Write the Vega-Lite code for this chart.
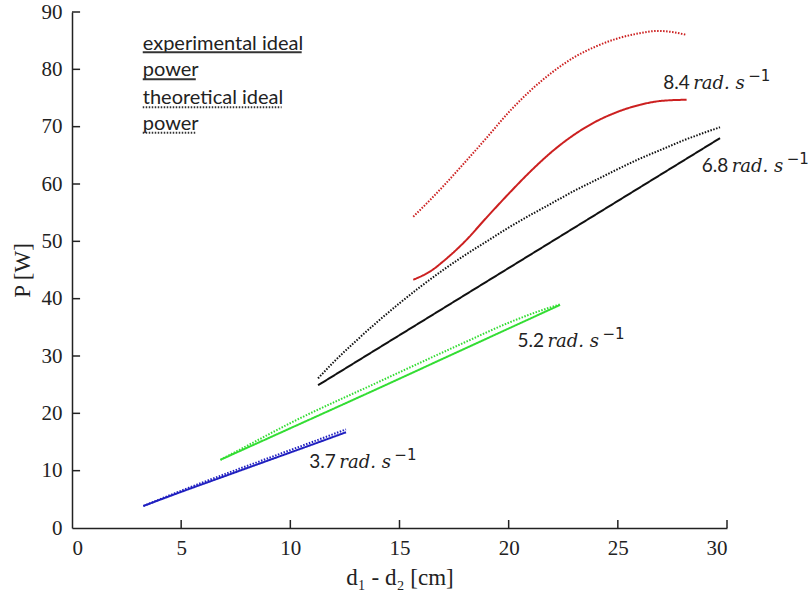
{
  "$schema": "https://vega.github.io/schema/vega-lite/v6.json",
  "width": 655,
  "height": 516,
  "autosize": {"type": "none"},
  "padding": {"left": 72, "top": 12, "right": 81, "bottom": 77},
  "background": "white",
  "config": {
    "view": {"stroke": null},
    "axis": {
      "grid": false,
      "ticks": false,
      "domainColor": "#222222",
      "domainWidth": 1.5,
      "labelFont": "Liberation Serif",
      "labelFontSize": 21,
      "labelColor": "#222222",
      "titleFont": "Liberation Serif",
      "titleFontSize": 23,
      "titleFontWeight": "normal",
      "titleColor": "#222222"
    }
  },
  "datasets": {
    "curves": [
      {"series": "b", "kind": "exp", "x": 3.27, "y": 3.84},
      {"series": "b", "kind": "exp", "x": 5, "y": 6.3},
      {"series": "b", "kind": "exp", "x": 7, "y": 9.05},
      {"series": "b", "kind": "exp", "x": 9, "y": 11.8},
      {"series": "b", "kind": "exp", "x": 11, "y": 14.55},
      {"series": "b", "kind": "exp", "x": 12.55, "y": 16.7},
      {"series": "b", "kind": "theo", "x": 3.27, "y": 3.84},
      {"series": "b", "kind": "theo", "x": 5, "y": 6.5},
      {"series": "b", "kind": "theo", "x": 7, "y": 9.4},
      {"series": "b", "kind": "theo", "x": 9, "y": 12.2},
      {"series": "b", "kind": "theo", "x": 11, "y": 15.0},
      {"series": "b", "kind": "theo", "x": 12.55, "y": 17.2},
      {"series": "g", "kind": "exp", "x": 6.8, "y": 11.9},
      {"series": "g", "kind": "exp", "x": 10, "y": 17.4},
      {"series": "g", "kind": "exp", "x": 14, "y": 24.3},
      {"series": "g", "kind": "exp", "x": 18, "y": 31.3},
      {"series": "g", "kind": "exp", "x": 22.35, "y": 38.9},
      {"series": "g", "kind": "theo", "x": 6.8, "y": 11.9},
      {"series": "g", "kind": "theo", "x": 8, "y": 14.3},
      {"series": "g", "kind": "theo", "x": 10, "y": 18.3},
      {"series": "g", "kind": "theo", "x": 14, "y": 25.4},
      {"series": "g", "kind": "theo", "x": 18, "y": 32.4},
      {"series": "g", "kind": "theo", "x": 20, "y": 35.8},
      {"series": "g", "kind": "theo", "x": 21.3, "y": 37.7},
      {"series": "g", "kind": "theo", "x": 22.35, "y": 39.0},
      {"series": "k", "kind": "exp", "x": 11.27, "y": 24.9},
      {"series": "k", "kind": "exp", "x": 29.68, "y": 68.0},
      {"series": "k", "kind": "theo", "x": 11.27, "y": 26.1},
      {"series": "k", "kind": "theo", "x": 12, "y": 29.0},
      {"series": "k", "kind": "theo", "x": 13, "y": 32.6},
      {"series": "k", "kind": "theo", "x": 14, "y": 36.0},
      {"series": "k", "kind": "theo", "x": 15, "y": 39.2},
      {"series": "k", "kind": "theo", "x": 16, "y": 42.2},
      {"series": "k", "kind": "theo", "x": 17, "y": 45.0},
      {"series": "k", "kind": "theo", "x": 18, "y": 47.6},
      {"series": "k", "kind": "theo", "x": 19, "y": 50.0},
      {"series": "k", "kind": "theo", "x": 20, "y": 52.4},
      {"series": "k", "kind": "theo", "x": 21, "y": 54.6},
      {"series": "k", "kind": "theo", "x": 22, "y": 56.7},
      {"series": "k", "kind": "theo", "x": 23, "y": 58.8},
      {"series": "k", "kind": "theo", "x": 24, "y": 60.7},
      {"series": "k", "kind": "theo", "x": 25, "y": 62.6},
      {"series": "k", "kind": "theo", "x": 26, "y": 64.4},
      {"series": "k", "kind": "theo", "x": 27, "y": 66.0},
      {"series": "k", "kind": "theo", "x": 28, "y": 67.6},
      {"series": "k", "kind": "theo", "x": 29, "y": 69.0},
      {"series": "k", "kind": "theo", "x": 29.68, "y": 69.9},
      {"series": "r", "kind": "exp", "x": 15.63, "y": 43.3},
      {"series": "r", "kind": "exp", "x": 16.5, "y": 45.0},
      {"series": "r", "kind": "exp", "x": 17, "y": 46.5},
      {"series": "r", "kind": "exp", "x": 18, "y": 50.0},
      {"series": "r", "kind": "exp", "x": 19, "y": 54.2},
      {"series": "r", "kind": "exp", "x": 20, "y": 58.3},
      {"series": "r", "kind": "exp", "x": 21, "y": 62.2},
      {"series": "r", "kind": "exp", "x": 22, "y": 65.7},
      {"series": "r", "kind": "exp", "x": 23, "y": 68.6},
      {"series": "r", "kind": "exp", "x": 24, "y": 70.9},
      {"series": "r", "kind": "exp", "x": 25, "y": 72.6},
      {"series": "r", "kind": "exp", "x": 26, "y": 73.8},
      {"series": "r", "kind": "exp", "x": 27, "y": 74.5},
      {"series": "r", "kind": "exp", "x": 28.15, "y": 74.7},
      {"series": "r", "kind": "theo", "x": 15.63, "y": 54.3},
      {"series": "r", "kind": "theo", "x": 16.5, "y": 57.6},
      {"series": "r", "kind": "theo", "x": 17, "y": 59.6},
      {"series": "r", "kind": "theo", "x": 18, "y": 63.8},
      {"series": "r", "kind": "theo", "x": 19, "y": 68.1},
      {"series": "r", "kind": "theo", "x": 20, "y": 72.5},
      {"series": "r", "kind": "theo", "x": 21, "y": 76.3},
      {"series": "r", "kind": "theo", "x": 22, "y": 79.5},
      {"series": "r", "kind": "theo", "x": 23, "y": 82.1},
      {"series": "r", "kind": "theo", "x": 24, "y": 84.0},
      {"series": "r", "kind": "theo", "x": 25, "y": 85.4},
      {"series": "r", "kind": "theo", "x": 26, "y": 86.3},
      {"series": "r", "kind": "theo", "x": 26.8, "y": 86.7},
      {"series": "r", "kind": "theo", "x": 27.5, "y": 86.5},
      {"series": "r", "kind": "theo", "x": 28.15, "y": 86.0}
    ],
    "labels": [
      {"num": "8.4", "unit": "rad. s", "sup": "−1", "x": 27.08, "y": 76.5},
      {"num": "6.8", "unit": "rad. s", "sup": "−1", "x": 28.84, "y": 62.15},
      {"num": "5.2", "unit": "rad. s", "sup": "−1", "x": 20.4, "y": 31.6},
      {"num": "3.7", "unit": "rad. s", "sup": "−1", "x": 10.87, "y": 10.4}
    ],
    "legendText": [
      {"text": "experimental ideal", "x": 3.24, "y": 83.4},
      {"text": "power", "x": 3.24, "y": 78.9},
      {"text": "theoretical ideal", "x": 3.24, "y": 73.9},
      {"text": "power", "x": 3.24, "y": 69.5}
    ],
    "legendLines": [
      {"kind": "exp", "x": 3.24, "x2": 10.52, "y": 82.98},
      {"kind": "exp", "x": 3.24, "x2": 5.67, "y": 78.27},
      {"kind": "theo", "x": 3.24, "x2": 9.6, "y": 73.38},
      {"kind": "theo", "x": 3.24, "x2": 5.67, "y": 68.95}
    ],
    "xticks": [
      {"v": 5, "lo": 0, "hi": 1.4},
      {"v": 10, "lo": 0, "hi": 1.4},
      {"v": 15, "lo": 0, "hi": 1.4},
      {"v": 20, "lo": 0, "hi": 1.4},
      {"v": 25, "lo": 0, "hi": 1.4},
      {"v": 30, "lo": 0, "hi": 1.4}
    ],
    "yticks": [
      {"v": 10, "lo": 0, "hi": 0.37},
      {"v": 20, "lo": 0, "hi": 0.37},
      {"v": 30, "lo": 0, "hi": 0.37},
      {"v": 40, "lo": 0, "hi": 0.37},
      {"v": 50, "lo": 0, "hi": 0.37},
      {"v": 60, "lo": 0, "hi": 0.37},
      {"v": 70, "lo": 0, "hi": 0.37},
      {"v": 80, "lo": 0, "hi": 0.37},
      {"v": 90, "lo": 0, "hi": 0.37}
    ]
  },
  "layer": [
    {
      "data": {"name": "curves"},
      "mark": {"type": "line", "strokeWidth": 2, "interpolate": "monotone"},
      "encoding": {
        "x": {
          "field": "x", "type": "quantitative",
          "scale": {"domain": [0, 30], "nice": false},
          "axis": {"values": [0, 5, 10, 15, 20, 25, 30], "labelPadding": 9, "title": "d₁ - d₂  [cm]", "titlePadding": 8}
        },
        "y": {
          "field": "y", "type": "quantitative",
          "scale": {"domain": [0, 90], "nice": false},
          "axis": {"values": [0, 10, 20, 30, 40, 50, 60, 70, 80, 90], "labelPadding": 10, "title": "P [W]", "titlePadding": 7}
        },
        "color": {
          "field": "series", "type": "nominal",
          "scale": {"domain": ["b", "g", "k", "r"], "range": ["#2020c0", "#33dd33", "#111111", "#cc2020"]},
          "legend": null
        },
        "strokeDash": {
          "field": "kind", "type": "nominal",
          "scale": {"domain": ["exp", "theo"], "range": [[1, 0], [1.5, 1.5]]},
          "legend": null
        },
        "detail": {"field": "kind"}
      }
    },
    {
      "data": {"name": "xticks"},
      "mark": {"type": "rule", "strokeWidth": 1.5, "color": "#222222"},
      "encoding": {
        "x": {"field": "v", "type": "quantitative"},
        "y": {"field": "lo", "type": "quantitative"},
        "y2": {"field": "hi"}
      }
    },
    {
      "data": {"name": "yticks"},
      "mark": {"type": "rule", "strokeWidth": 1.5, "color": "#222222"},
      "encoding": {
        "y": {"field": "v", "type": "quantitative"},
        "x": {"field": "lo", "type": "quantitative"},
        "x2": {"field": "hi"}
      }
    },
    {
      "data": {"name": "labels"},
      "mark": {"type": "text", "align": "left", "baseline": "alphabetic", "font": "Lato", "fontSize": 19, "color": "#222222"},
      "encoding": {
        "x": {"field": "x", "type": "quantitative"},
        "y": {"field": "y", "type": "quantitative"},
        "text": {"field": "num"}
      }
    },
    {
      "data": {"name": "labels"},
      "mark": {"type": "text", "align": "left", "baseline": "alphabetic", "font": "DejaVu Serif", "fontStyle": "italic", "fontSize": 18, "color": "#222222", "dx": 30},
      "encoding": {
        "x": {"field": "x", "type": "quantitative"},
        "y": {"field": "y", "type": "quantitative"},
        "text": {"field": "unit"}
      }
    },
    {
      "data": {"name": "labels"},
      "mark": {"type": "text", "align": "left", "baseline": "alphabetic", "font": "DejaVu Sans", "fontSize": 15, "color": "#222222", "dx": 85, "dy": -8},
      "encoding": {
        "x": {"field": "x", "type": "quantitative"},
        "y": {"field": "y", "type": "quantitative"},
        "text": {"field": "sup"}
      }
    },
    {
      "data": {"name": "legendText"},
      "mark": {"type": "text", "align": "left", "baseline": "alphabetic", "font": "Lato", "fontSize": 20, "color": "#222222"},
      "encoding": {
        "x": {"field": "x", "type": "quantitative"},
        "y": {"field": "y", "type": "quantitative"},
        "text": {"field": "text"}
      }
    },
    {
      "data": {"name": "legendLines"},
      "mark": {"type": "rule", "strokeWidth": 2, "color": "#333333"},
      "encoding": {
        "x": {"field": "x", "type": "quantitative"},
        "x2": {"field": "x2"},
        "y": {"field": "y", "type": "quantitative"},
        "strokeDash": {
          "field": "kind", "type": "nominal",
          "scale": {"domain": ["exp", "theo"], "range": [[1, 0], [1.5, 1.5]]},
          "legend": null
        }
      }
    }
  ]
}
